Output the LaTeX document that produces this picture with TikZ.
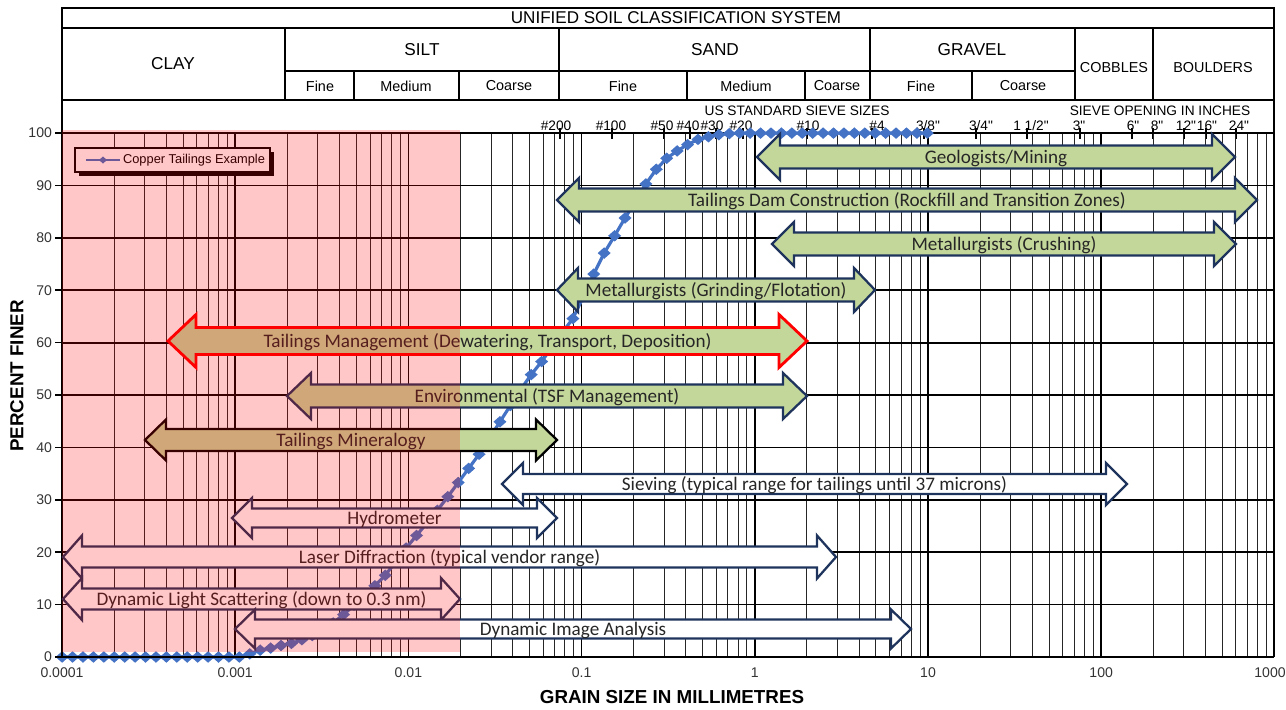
\documentclass[tikz,border=0pt]{standalone}
\usepackage{fontspec}
\setmainfont{Liberation Sans}
\newfontfamily\calib{Carlito}
\usetikzlibrary{shapes.geometric}

\definecolor{curveblue}{RGB}{68,114,196}
\definecolor{rangegreen}{RGB}{196,215,155}
\definecolor{rangenavy}{RGB}{30,52,92}

% double headed range arrow: style, name, x1, x2, y, shaft half, head half, head length, text
\newcommand\rangearrow[9]{%
  \draw[#1] (#3,#5) -- ++(#8,-#7) -- ++(0,#7-#6) -- (#4-#8,#5-#6) -- ++(0,#6-#7)
    -- (#4,#5) -- ++(-#8,#7) -- ++(0,#6-#7) -- (#3+#8,#5+#6) -- ++(0,#7-#6) -- cycle;
  \node[rangelabel] (#2) at ({(#3+#4)/2},#5+1) {#9};}
\newcommand\inch{\textquotedbl}

% copper tailings example, marker k sits at 0.0001*2^(k/5) mm
\def\tailings{0/0,1/0,2/0,3/0,4/0,5/0,6/0,7/0,8/0,9/0,10/0,11/0,12/0,13/0,14/0,15/0,16/0,17/0,
18/0.6,19/1.3,20/1.7,21/2.2,22/2.6,23/3.3,24/4.1,25/5.0,26/6.5,27/8.1,28/9.9,29/11.8,30/13.6,
31/15.6,32/18.2,33/20.8,34/23.2,35/25.6,36/28.0,37/30.6,38/33.3,39/36.0,40/38.7,41/41.8,
42/44.9,43/48.0,44/51.1,45/53.9,46/56.4,47/59.2,48/62.0,49/64.6,50/68.8,51/73.1,52/77.1,
53/80.4,54/83.8,55/87.0,56/90.3,57/93.1,58/95.2,59/96.6,60/97.8,61/98.8,62/99.3,63/99.7,
64/99.9,65/100,66/100,67/100,68/100,69/100,70/100,71/100,72/100,73/100,74/100,75/100,
76/100,77/100,78/100,79/100,80/100,81/100,82/100,83/100}

\begin{document}
\begin{tikzpicture}[x=0.02cm,y=-0.02cm,
  frame/.style={line width=0.9pt},
  axisline/.style={line width=1.6pt},
  minorgrid/.style={line width=0.55pt,black!85},
  majorgrid/.style={line width=0.95pt},
  sievetick/.style={line width=0.6pt},
  curve/.style={curveblue,line width=1.8pt},
  datamark/.style={curveblue},
  greenrange/.style={draw=rangenavy,fill=rangegreen,line width=1.3pt},
  redrange/.style={draw=red,fill=rangegreen,line width=1.6pt},
  blackrange/.style={draw=black,fill=rangegreen,line width=1.3pt},
  whiterange/.style={draw=rangenavy,fill=white,line width=1.3pt},
  rangelabel/.style={font=\calib\fontsize{10.9}{12}\selectfont,text=black!85,inner sep=0pt},
  hdrtitle/.style={font=\fontsize{9.7}{11}\selectfont},
  soilclass/.style={font=\fontsize{9.8}{11}\selectfont},
  bigclass/.style={font=\fontsize{8.2}{10}\selectfont},
  subclass/.style={font=\fontsize{8.2}{10}\selectfont},
  sievelbl/.style={font=\fontsize{7.8}{9}\selectfont,inner sep=0pt},
  ticklbl/.style={font=\fontsize{8}{10}\selectfont,text=black!80},
  axistitle/.style={font=\bfseries\fontsize{10.7}{12}\selectfont},
  legendtext/.style={font=\fontsize{7.3}{9}\selectfont,inner sep=1pt}]
\useasboundingbox (0,0) rectangle (1286,710);

% classification header
\draw[frame] (62,8) rectangle (1274,100);
\draw[frame] (62,28) -- (1274,28);
\draw[frame] (285,71) -- (1075,71);
\foreach \xx in {285,559,870,1075,1153}
  \draw[frame] (\xx,28) -- (\xx,100);
\foreach \xx in {354,459,687,805,972}
  \draw[frame] (\xx,71) -- (\xx,100);
\node[hdrtitle] (uscs) at (676,18) {UNIFIED SOIL CLASSIFICATION SYSTEM};
\node[soilclass] (clay) at (173,64) {CLAY};
\node[soilclass] (silt) at (422,50) {SILT};
\node[soilclass] (sand) at (715,50) {SAND};
\node[soilclass] (gravel) at (972,50) {GRAVEL};
\node[bigclass] (cobbles) at (1114,68) {COBBLES};
\node[bigclass] (boulders) at (1213,68) {BOULDERS};
\foreach \xx/\lbl [count=\i] in {320/Fine,406/Medium,509/Coarse,623/Fine,746/Medium,837/Coarse,921/Fine,1023/Coarse}
  \node[subclass] (sub\i) at (\xx,86) {\lbl};

% sieve row
\node[sievelbl] (ussieve) at (797,111) {US STANDARD SIEVE SIZES};
\node[sievelbl] (inches) at (1160,111) {SIEVE OPENING IN INCHES};
\foreach \xx in {560,612,664,690,716,743,807,872,924,976,1027,1080,1132,1153,1184,1206,1236}
  \draw[sievetick] (\xx,128) -- (\xx,139);
\foreach \xx/\lbl [count=\i] in {556/\#200,611/\#100,662/\#50,688/\#40,712/\#30,741/\#20,808/\#10,877/\#4,
    928/{3/8\inch},981/{3/4\inch},1031/{1 1/2\inch},1079/{3\inch},1133/{6\inch},1157/{8\inch},
    1186/{12\inch},1207/{16\inch},1239/{24\inch}}
  \node[sievelbl] (sv\i) at (\xx,126) {\lbl};

% grid and grading curve
\begin{scope}[shift={(754.8,657)},x=3.464cm,y=0.1048cm]
  \foreach \e in {-4,...,2}
    \foreach \m in {2,...,9}
      \draw[minorgrid] ({\e+log10(\m)},0) -- ({\e+log10(\m)},100);
  \foreach \e in {-3,...,2}
    \draw[majorgrid] (\e,0) -- (\e,100);
  \foreach \p in {10,20,...,100}
    \draw[majorgrid] (-4,\p) -- (3,\p);
  \draw[curve] (-4,0) \foreach \k/\p in \tailings {-- ({-4+0.0602*\k},\p)};
  \foreach \k/\p in \tailings
    \fill[datamark] ({-4+0.0602*\k},\p) +(-0.13cm,0cm) -- +(0cm,0.115cm) -- +(0.13cm,0cm) -- +(0cm,-0.115cm) -- cycle;
\end{scope}

% axes
\draw[frame] (1274,100) -- (1274,657);
\draw[axisline] (62,8) -- (62,657) -- (1274,657);
\foreach \p in {0,10,...,100} {
  \draw[frame] (55,{657-5.24*\p}) -- (62,{657-5.24*\p});
  \node[ticklbl,anchor=east,inner sep=1pt] (yt\p) at (54,{657-5.24*\p}) {\p};
}
\foreach \e/\lbl [count=\i] in {-4/0.0001,-3/0.001,-2/0.01,-1/0.1,0/1,1/10,2/100}
  \node[ticklbl] (xt\i) at ({754.8+173.2*\e},673) {\lbl};
\node[ticklbl,anchor=east,inner sep=0pt] (xt8) at (1286,673) {1000};
\node[axistitle,rotate=90] (ylab) at (17,376) {PERCENT FINER};
\node[axistitle] (xlab) at (672,697) {GRAIN SIZE IN MILLIMETRES};

% ranges of interest
\rangearrow{greenrange}{geo}{757}{1235}{157}{11.5}{23}{23}{Geologists/Mining}
\rangearrow{greenrange}{dam}{557}{1257}{200}{11.5}{22}{22}{Tailings Dam Construction (Rockfill and Transition Zones)}
\rangearrow{greenrange}{crush}{772}{1236}{244}{11.5}{22}{22}{Metallurgists (Crushing)}
\rangearrow{greenrange}{grind}{557}{875}{290}{11.5}{22}{21}{Metallurgists (Grinding/Flotation)}
\rangearrow{redrange}{tmgmt}{168}{807}{341}{13.5}{26.5}{28}{Tailings Management (Dewatering, Transport, Deposition)}
\rangearrow{greenrange}{env}{287}{807}{396}{11.5}{23}{24}{Environmental (TSF Management)}
\rangearrow{blackrange}{minr}{145}{557}{440}{11}{20.5}{21}{Tailings Mineralogy}
\rangearrow{whiterange}{sieve}{502}{1127}{484}{10}{21}{21}{Sieving (typical range for tailings until 37 microns)}
\rangearrow{whiterange}{hydro}{232}{557}{518}{9.5}{20}{20}{Hydrometer}
\rangearrow{whiterange}{laser}{63}{836}{557}{10.5}{21.5}{19}{Laser Diffraction (typical vendor range)}
\rangearrow{whiterange}{dls}{63}{460}{599}{10.5}{21}{19}{Dynamic Light Scattering (down to 0.3 nm)}
\rangearrow{whiterange}{dia}{235}{911}{629}{9.5}{19.5}{20}{Dynamic Image Analysis}

% legend
\fill (79,152) rectangle (274,176);
\draw[fill=white,line width=0.8pt] (75,148) rectangle (270,172);
\coordinate (legA) at (86,160);
\coordinate (legB) at (120,160);
\draw[curve,line width=1.3pt] (legA) -- (legB);
\fill[datamark] (103,160) +(-0.08cm,0cm) -- +(0cm,0.07cm) -- +(0.08cm,0cm) -- +(0cm,-0.07cm) -- cycle;
\node[legendtext,anchor=west] (legend) at (121,160) {Copper Tailings Example};

% clay and fine silt band
\fill[red,fill opacity=0.22] (62,130) rectangle (460,652);
\end{tikzpicture}
\end{document}
